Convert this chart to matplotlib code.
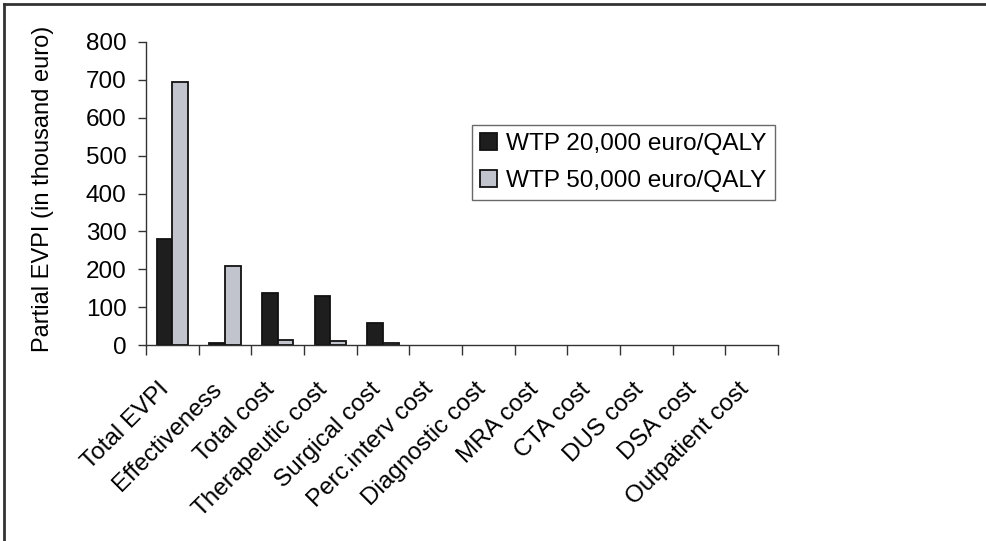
import matplotlib
matplotlib.use("Agg")
import matplotlib.pyplot as plt
from matplotlib.lines import Line2D
from matplotlib.ticker import FixedLocator, NullFormatter
from matplotlib.transforms import ScaledTranslation
import numpy as np

plt.rcParams['font.family'] = ['Liberation Sans', 'DejaVu Sans']

categories = ["Total EVPI", "Effectiveness", "Total cost", "Therapeutic cost",
              "Surgical cost", "Perc.interv cost", "Diagnostic cost", "MRA cost",
              "CTA cost", "DUS cost", "DSA cost", "Outpatient cost"]
wtp_20000 = [280, 5, 136, 130, 57, 0, 0, 0, 0, 0, 0, 0]
wtp_50000 = [695, 209, 14, 10, 5, 0, 0, 0, 0, 0, 0, 0]
series_labels = ["WTP 20,000 euro/QALY", "WTP 50,000 euro/QALY"]
y_ticks = [0, 100, 200, 300, 400, 500, 600, 700, 800]

fig = plt.figure(figsize=(9.86, 5.41), dpi=100)
ax = fig.add_axes([146 / 986, 1 - 345 / 541, 632 / 986, 303 / 541])

centers = np.arange(len(categories)) + 0.5
w = 0.3
b1 = ax.bar(centers - w / 2, wtp_20000, width=w, color="#1e1e1e", edgecolor="#111111",
            linewidth=1.3, label=series_labels[0])
b2 = ax.bar(centers + w / 2, wtp_50000, width=w, color="#c1c4cc", edgecolor="#111111",
            linewidth=1.3, label=series_labels[1])
# empty bars draw no outline
for bars in (b1, b2):
    for p in bars.patches:
        if p.get_height() == 0:
            p.set_linewidth(0)

ax.set_xlim(0, len(categories))
ax.set_ylim(0, 800)
ax.set_yticks(y_ticks)
ax.tick_params(axis="y", labelsize=17.5, length=6, width=1, color="#333333", pad=8)

# category boundaries carry the tick marks, centres carry the labels
ax.xaxis.set_major_locator(FixedLocator(np.arange(len(categories) + 1)))
ax.xaxis.set_major_formatter(NullFormatter())
ax.xaxis.set_minor_locator(FixedLocator(centers))
ax.set_xticklabels(categories, minor=True, rotation=45, ha="right", va="top",
                   rotation_mode="anchor", fontsize=17.5)
ax.tick_params(axis="x", which="major", length=7, width=1, color="#333333")
ax.tick_params(axis="x", which="minor", length=0, pad=24)
shift = ScaledTranslation(-14 / 100, 0, fig.dpi_scale_trans)
for lbl in ax.get_xticklabels(minor=True):
    lbl.set_transform(lbl.get_transform() + shift)

for s in ("top", "right"):
    ax.spines[s].set_visible(False)
for s in ("left", "bottom"):
    ax.spines[s].set_color("#333333")
    ax.spines[s].set_linewidth(1)

ax.set_ylabel("Partial EVPI (in thousand euro)", fontsize=17)
ax.yaxis.set_label_coords(-0.145, 0.515)

leg = ax.legend(loc="upper right", bbox_to_anchor=(0.995, 0.726), fontsize=17.6,
                frameon=True, fancybox=False, handlelength=0.7, handleheight=0.7,
                handletextpad=0.37, borderpad=0.33, labelspacing=0.6,
                borderaxespad=0)
leg.get_frame().set_edgecolor("#444444")
leg.get_frame().set_linewidth(1)

# outer frame: top and left edges
fig.add_artist(Line2D([4 / 986, 1], [1 - 4 / 541, 1 - 4 / 541], color="#333333",
                      linewidth=2, transform=fig.transFigure))
fig.add_artist(Line2D([4 / 986, 4 / 986], [0, 1 - 4 / 541], color="#333333",
                      linewidth=2, transform=fig.transFigure))

fig.savefig("out.png", dpi=100)
